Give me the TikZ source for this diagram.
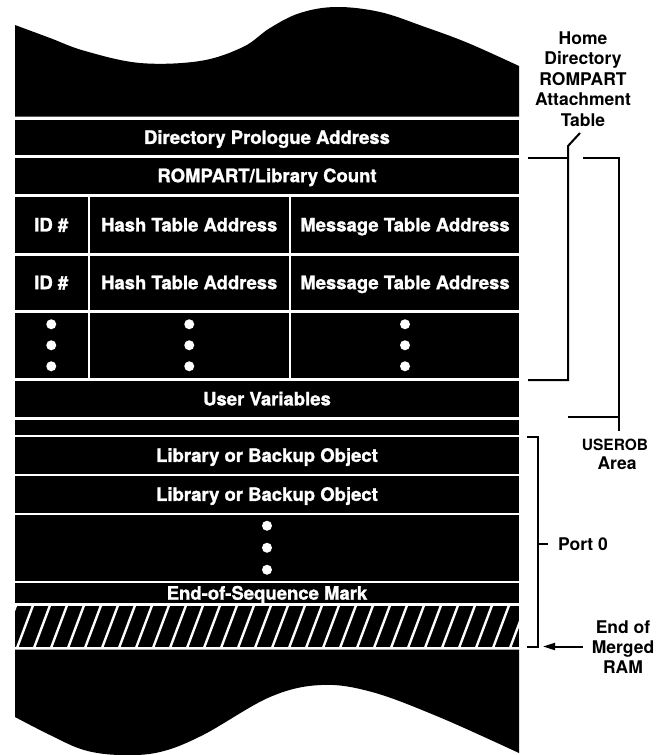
\documentclass[tikz,border=0pt]{standalone}
\usepackage{fontspec}
\setmainfont{TeX Gyre Heros}
\newfontfamily\heavyfont{TeX Gyre Heros}[BoldFeatures={FakeBold=1.3}]
\usetikzlibrary{arrows.meta,calc}
\begin{document}
\begin{tikzpicture}[x=1pt,y=-1pt,
  band/.style={fill=black,text=white,inner sep=0pt,outer sep=0pt,anchor=north west,
    text height=13.3pt,text depth=0pt,
    font=\heavyfont\bfseries\fontsize{18.5}{20}\selectfont},
  dotmark/.style={circle,fill=white,inner sep=0pt,minimum size=10pt},
  brk/.style={line width=2pt,line cap=butt},
  lbl/.style={font=\bfseries\fontsize{17.5}{20.5}\selectfont,align=center,inner sep=0pt},
  hatchline/.style={white,line width=2.4pt}]
\fill[white] (0,0) rectangle (667,755);
\useasboundingbox (0,0) rectangle (667,755);

% torn top
\fill[black] (15,116.5) -- (15,25) -- plot[smooth,tension=0.6] coordinates
  {(15,25) (50,38) (85,51) (140,63) (200,61) (243,47) (270,28) (300,13) (336,7)
   (380,12) (425,27) (468,43) (519,66)} -- (519,116.5) -- cycle;

% bands
\node[band,minimum width=504pt,minimum height=35.5pt] (dpa) at (15,119.5) {Directory Prologue Address};
\node[band,minimum width=504pt,minimum height=36pt] (rlc) at (15,157.5) {ROMPART/Library Count};

\node[band,minimum width=72.5pt,minimum height=56.5pt] (id1) at (15,196.5) {ID \#};
\node[band,minimum width=198.5pt,minimum height=56.5pt] (hash1) at (90,196.5) {Hash Table Address};
\node[band,minimum width=228pt,minimum height=56.5pt] (msg1) at (291,196.5) {Message Table Address};

\node[band,minimum width=72.5pt,minimum height=54pt] (id2) at (15,255.5) {ID \#};
\node[band,minimum width=198.5pt,minimum height=54pt] (hash2) at (90,255.5) {Hash Table Address};
\node[band,minimum width=228pt,minimum height=54pt] (msg2) at (291,255.5) {Message Table Address};

\node[band,minimum width=72.5pt,minimum height=65.5pt] (id3) at (15,312.5) {};
\node[band,minimum width=198.5pt,minimum height=65.5pt] (hash3) at (90,312.5) {};
\node[band,minimum width=228pt,minimum height=65.5pt] (msg3) at (291,312.5) {};
\foreach \c in {id3,hash3,msg3}{
  \node[dotmark] (\c a) at ($(\c.center)+(0,-21)$) {};
  \node[dotmark] (\c b) at (\c.center) {};
  \node[dotmark] (\c c) at ($(\c.center)+(0,21)$) {};
}

\node[band,minimum width=504pt,minimum height=36.5pt] (uv) at (15,380.5) {User Variables};
\node[band,minimum width=504pt,minimum height=15pt] (thin) at (15,419.5) {};
\node[band,minimum width=504pt,minimum height=36.5pt] (lbo1) at (15,437) {Library or Backup Object};
\node[band,minimum width=504pt,minimum height=36.5pt] (lbo2) at (15,476) {Library or Backup Object};
\node[band,minimum width=504pt,minimum height=65.5pt] (more) at (15,515) {};
\node[dotmark] (ma) at ($(more.center)+(0,-22)$) {};
\node[dotmark] (mb) at (more.center) {};
\node[dotmark] (mc) at ($(more.center)+(0,22)$) {};
\node[band,minimum width=504pt,minimum height=20pt] (eos) at (15,583) {End-of-Sequence Mark};
\node[band,minimum width=504pt,minimum height=41.5pt] (hatch) at (15,605.5) {};
\begin{scope}
  \clip (hatch.north west) rectangle (hatch.south east);
  \foreach \k in {-2,...,30}{
    \draw[hatchline] ({17+17*\k},648) -- ++(16.5,-44);
  }
\end{scope}

% torn bottom
\fill[black] (15,649.5) -- (15,717) -- plot[smooth,tension=0.6] coordinates
  {(15,717) (50,735) (84,750) (120,755) (160,752) (203,735) (270,697) (321,685)
   (372,692) (439,717) (519,753)} -- (519,649.5) -- cycle;

% right-hand labels
\node[lbl] (hdr) at (583,79) {Home\\Directory\\ROMPART\\Attachment\\Table};
\node[lbl,font=\bfseries\fontsize{15.5}{17}\selectfont] (userob) at (615,445) {USEROB};
\node[lbl] (area) at (617,463) {Area};
\node[lbl,anchor=west] (port) at (558,544) {Port 0};
\node[lbl,font=\bfseries\fontsize{17.5}{20}\selectfont] (emr) at (623,647) {End of\\Merged\\RAM};

% bracket: attachment table
\coordinate (a1) at (528,157.5);
\coordinate (a2) at (568,157.5);
\coordinate (a3) at (568,380);
\coordinate (a4) at (528,380);
\coordinate (aTop) at (568,146);
\coordinate (aTip) at (580,133);
\draw[brk] (a1) -- (a2);
\draw[brk] (aTip) -- (aTop) -- (a3) -- (a4);

% bracket: USEROB area
\coordinate (b1) at (583,157.5);
\coordinate (b2) at (619,157.5);
\coordinate (b3) at (619,431);
\coordinate (b4) at (568,417);
\coordinate (b5) at (619,417);
\draw[brk] (b1) -- (b2) -- (b3);
\draw[brk] (b4) -- (b5);

% bracket: port 0
\coordinate (c1) at (527,436.5);
\coordinate (c2) at (538,436.5);
\coordinate (c3) at (538,646.5);
\coordinate (c4) at (527,646.5);
\coordinate (c5) at (538,544);
\coordinate (c6) at (548,544);
\draw[brk] (c1) -- (c2) -- (c3) -- (c4);
\draw[brk] (c5) -- (c6);

% arrow: end of merged RAM
\coordinate (arrS) at (583,646.5);
\coordinate (arrE) at (543,646.5);
\draw[brk,-{Triangle[length=12pt,width=7pt]}] (arrS) -- (arrE);
\end{tikzpicture}
\end{document}
